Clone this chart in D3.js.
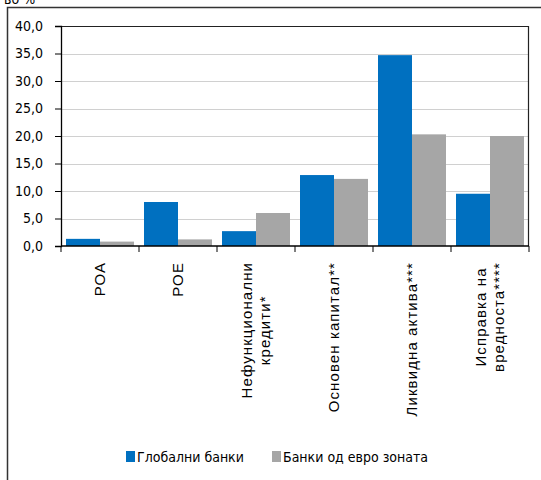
<!DOCTYPE html>
<html>
<head>
<meta charset="utf-8">
<script src="https://cdn.jsdelivr.net/npm/d3@7"></script>
<style>
  body { margin: 0; background: #fff; }
  svg { display: block; }
</style>
</head>
<body>
<div id="canvas"></div>
<script>
// data
const categories = ["РОА", "РОЕ", "Нефункционални|кредити*", "Основен  капитал**", "Ликвидна  актива***", "Исправка  на|вредноста****"];
const seriesNames = ["Глобални банки", "Банки од евро зоната"];
const globalBanks = [1.3, 8.0, 2.7, 12.9, 34.7, 9.5];
const euroBanks = [0.8, 1.2, 6.0, 12.2, 20.3, 20.0];
const yTicks = [0, 5, 10, 15, 20, 25, 30, 35, 40];
const colors = ["#0070c0", "#a6a6a6"];

const W = 541, H = 480;
const margin = { top: 26, right: 12, bottom: 234, left: 61 };
const width = W - margin.left - margin.right;
const height = H - margin.top - margin.bottom;

const svg = d3.select("#canvas").append("svg")
    .attr("width", W)
    .attr("height", H);

// outer frame (cut off on right / bottom)
svg.append("path")
    .attr("d", `M7.5,${H} V7.5 H${W}`)
    .attr("fill", "none")
    .attr("stroke", "#333")
    .attr("stroke-width", 1.5);

svg.append("text")
    .attr("x", 4).attr("y", 4)
    .attr("font-family", "DejaVu Sans Condensed")
    .attr("font-size", 14)
    .text("во %");

const g = svg.append("g")
    .attr("transform", `translate(${margin.left}, ${margin.top})`);

const data = categories.map((c, i) => ({ name: c, values: [globalBanks[i], euroBanks[i]] }));

const x0 = d3.scaleBand()
    .domain(categories)
    .range([0, width])
    .padding(0);

const x1 = d3.scaleBand()
    .domain(d3.range(seriesNames.length))
    .range([0, x0.bandwidth()])
    .paddingInner(0)
    .paddingOuter(0.147);

const y = d3.scaleLinear()
    .domain([0, 40])
    .range([height, 0]);

// gridlines
g.append("g")
    .selectAll("line")
    .data(yTicks.filter(d => d > 0 && d < 40))
    .join("line")
    .attr("x1", 0).attr("x2", width)
    .attr("y1", d => Math.round(y(d)) + 0.5)
    .attr("y2", d => Math.round(y(d)) + 0.5)
    .attr("stroke", "#d0d0d0")
    .attr("stroke-width", 1.2);

// bars
const groups = g.selectAll(".grp")
    .data(data)
    .join("g")
    .attr("class", "grp")
    .attr("transform", d => `translate(${x0(d.name)},0)`);

groups.selectAll("rect")
    .data(d => d.values.map((v, i) => ({ v, i })))
    .join("rect")
    .attr("x", d => x1(d.i))
    .attr("y", d => y(d.v))
    .attr("width", x1.bandwidth())
    .attr("height", d => height - y(d.v))
    .attr("fill", d => colors[d.i]);

// plot border top + right
g.append("path")
    .attr("d", `M0,0.5 H${width - 0.5} V${height}`)
    .attr("fill", "none")
    .attr("stroke", "#222")
    .attr("stroke-width", 1.2);

// y axis
const yAxisCall = d3.axisLeft(y)
    .tickValues(yTicks)
    .tickSize(6)
    .tickPadding(12)
    .tickFormat(d => d3.format(".1f")(d).replace(".", ","));

const yAxisGroup = g.append("g").call(yAxisCall);
yAxisGroup.select(".domain").attr("stroke", "#000").attr("stroke-width", 1.3);
yAxisGroup.selectAll(".tick line").attr("stroke", "#000");
yAxisGroup.selectAll("text")
    .attr("font-family", "DejaVu Sans Condensed")
    .attr("font-size", 14)
    .attr("fill", "#000");

// x axis
const xAxisGroup = g.append("g")
    .attr("transform", `translate(0, ${height})`);
xAxisGroup.append("line")
    .attr("x1", 0).attr("x2", width)
    .attr("stroke", "#000")
    .attr("stroke-width", 1.3);
xAxisGroup.selectAll(".xt")
    .data(categories.map(c => x0(c)).concat([width]))
    .join("line")
    .attr("class", "xt")
    .attr("x1", d => d).attr("x2", d => d)
    .attr("y1", 0).attr("y2", 6)
    .attr("stroke", "#000");

// rotated category labels, lines centred on each other, longest line ends at top
const labelTop = 16;
const lineGap = 18;
categories.forEach(c => {
    const lines = c.split("|");
    const cx = x0(c) + x0.bandwidth() / 2;
    const lab = xAxisGroup.append("text")
        .attr("font-family", "Liberation Sans, Arial")
        .attr("font-size", 15)
        .attr("letter-spacing", 1.1)
        .attr("text-anchor", "middle")
        .attr("fill", "#000");
    lines.forEach((l, i) => {
        lab.append("tspan")
            .attr("x", 0)
            .attr("y", (i - (lines.length - 1) / 2) * lineGap)
            .attr("dy", "0.35em")
            .text(l);
    });
    const maxLen = d3.max(lab.selectAll("tspan").nodes(), n => n.getComputedTextLength());
    lab.attr("transform", `translate(${cx}, ${labelTop + maxLen / 2}) rotate(-90)`);
});

// legend
const legend = svg.append("g")
    .attr("transform", "translate(126, 451)");
const legendX = [0, 146];
seriesNames.forEach((s, i) => {
    const item = legend.append("g").attr("transform", `translate(${legendX[i]},0)`);
    item.append("rect")
        .attr("width", 9).attr("height", 11)
        .attr("fill", colors[i]);
    item.append("text")
        .attr("x", 11).attr("y", 11)
        .attr("font-family", "DejaVu Sans Condensed")
        .attr("font-size", 14)
        .attr("fill", "#000")
        .text(s);
});
</script>
</body>
</html>
